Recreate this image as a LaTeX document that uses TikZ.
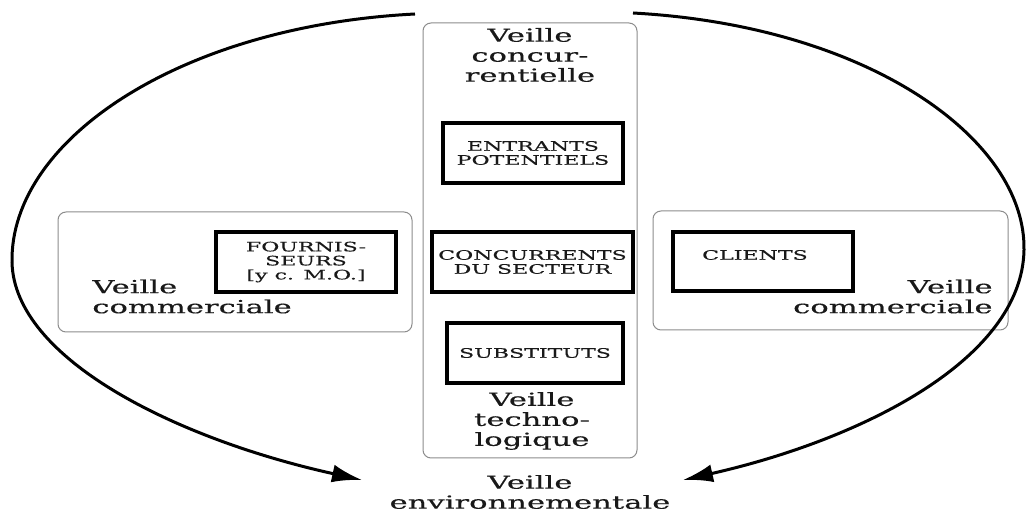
\documentclass[tikz,border=0pt]{standalone}
\usepackage{fontspec}
\setmainfont{DejaVu Serif}[FakeStretch=1.7,FakeBold=0.4]
\usetikzlibrary{arrows.meta}
\begin{document}
\begin{tikzpicture}[x=0.5pt,y=-0.5pt,
  zone/.style={draw=black!45,line width=0.5pt,rounded corners=4pt,inner sep=0pt},
  item/.style={draw=black,line width=1.7pt,inner sep=0pt,align=center,
    font=\fontsize{6.5}{7}\selectfont,text=black!90},
  big/.style={inner sep=0pt,font=\fontsize{9}{10}\selectfont,text=black!90},
  bigarc/.style={line width=1.5pt,-{Latex[length=15pt,width=9pt]}}]
\useasboundingbox (0,0) rectangle (1030,518);
% zones
\node[zone,minimum width=107pt,minimum height=217.5pt] (central) at (530,240.5) {};
\node[zone,minimum width=177pt,minimum height=60pt] (left) at (235,272) {};
\node[zone,minimum width=177.5pt,minimum height=59.5pt] (right) at (830.5,270.5) {};
% items
\node[item,minimum width=90pt,minimum height=30pt] (entrants) at (533,153) {ENTRANTS\\POTENTIELS};
\node[item,minimum width=100.5pt,minimum height=30pt] (concurrents) at (532.5,262) {CONCURRENTS\\DU SECTEUR};
\node[item,minimum width=88pt,minimum height=30pt] (substituts) at (535,353) {SUBSTITUTS};
\node[item,minimum width=90pt,minimum height=30pt] (fournis) at (306,262) {FOURNIS-\\SEURS\\{[}y c. M.O.{]}};
\node[item,minimum width=90pt,minimum height=29.5pt] (clients) at (763,261.5) {};
\node[inner sep=0pt,font=\fontsize{6.5}{7}\selectfont,text=black!90] (clientstxt) at (755,255) {CLIENTS};
% labels
\node[big,align=center] (vconc) at (530,55) {Veille\\concur-\\rentielle};
\node[big,align=center] (vtech) at (532,421) {Veille\\techno-\\logique};
\node[big,align=left,anchor=west] (vcoml) at (92,296.5) {Veille\\commerciale};
\node[big,align=right,anchor=east] (vcomr) at (993,296.5) {Veille\\commerciale};
\node[big,align=center] (venv) at (530,492) {Veille\\environnementale};
% arcs
\coordinate (als) at (415,14);
\coordinate (alm) at (12,262);
\coordinate (ale) at (362,480);
\coordinate (ars) at (633,13);
\coordinate (arm) at (1024,250);
\coordinate (are) at (683,480);
\draw[bigarc] (als) .. controls (180,26) and (10,140) .. (alm)
  .. controls (14,360) and (180,440) .. (ale);
\draw[bigarc] (ars) .. controls (870,26) and (1026,140) .. (arm)
  .. controls (1022,360) and (860,440) .. (are);
\end{tikzpicture}
\end{document}
